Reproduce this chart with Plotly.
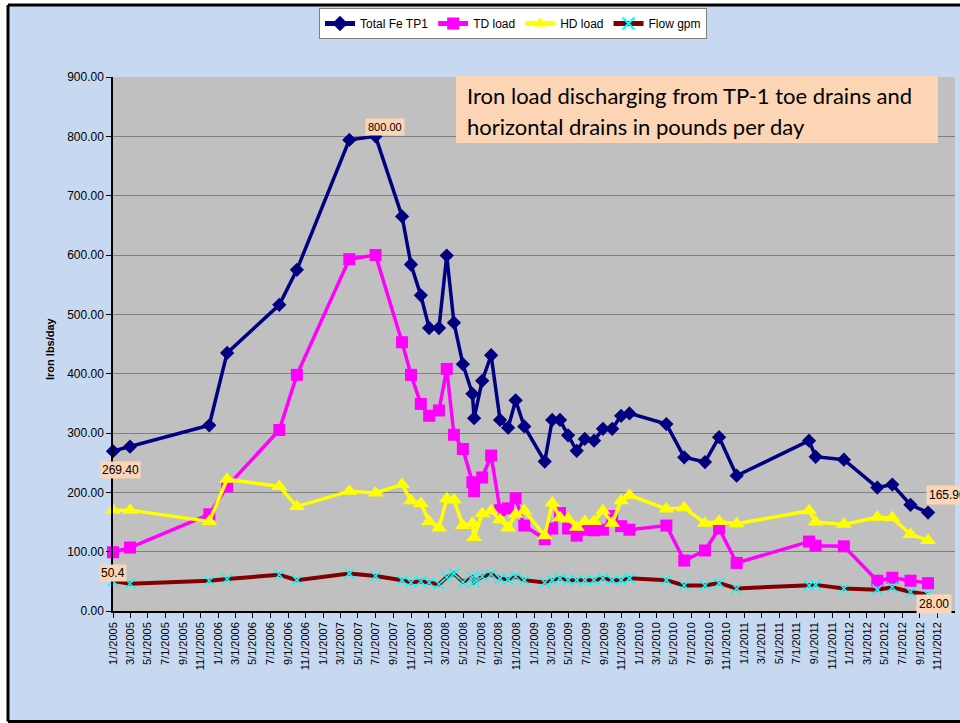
import plotly.graph_objects as go

dates = ["2005-01-01", "2005-03-01", "2005-12-01", "2006-02-01", "2006-08-01", "2006-10-01",
         "2007-04-01", "2007-07-01", "2007-10-01", "2007-11-01", "2007-12-05", "2008-01-03",
         "2008-02-06", "2008-03-04", "2008-03-29", "2008-04-29", "2008-06-01", "2008-06-07",
         "2008-07-05", "2008-08-05", "2008-09-05", "2008-10-03", "2008-10-29", "2008-11-28",
         "2009-02-07", "2009-03-05", "2009-04-01", "2009-04-29", "2009-05-29", "2009-06-26",
         "2009-07-28", "2009-08-28", "2009-09-29", "2009-10-30", "2009-11-28", "2010-04-05",
         "2010-06-06", "2010-08-17", "2010-10-05", "2010-12-05", "2011-08-13", "2011-09-05",
         "2011-12-12", "2012-04-06", "2012-05-28", "2012-07-30", "2012-09-29"]

total_fe = [269.4, 277, 313, 435, 516, 575, 794, 800, 665, 584, 532, 477, 477, 599, 486, 416,
            366, 325, 388, 431, 322, 309, 355, 311, 252, 322, 322, 296, 270, 290, 287, 307,
            307, 329, 333, 315, 259, 251, 293, 228, 287, 260, 255, 208, 213, 179, 165.9]

td_load = [99, 107, 163, 210, 305, 398, 593, 600, 453, 398, 349, 329, 338, 408, 297, 273,
           217, 202, 225, 262, 170, 173, 190, 144, 121, 139, 165, 139, 127, 137, 136, 137,
           160, 143, 137, 144, 85, 102, 139, 81, 117, 110, 109, 51, 56, 51, 47]

hd_load = [170, 170, 151, 222, 210, 176, 202, 199, 213, 186, 181, 151, 140, 189, 187, 144,
           148, 124, 164, 169, 154, 140, 163, 169, 127, 182, 157, 155, 141, 151, 151, 169,
           148, 186, 195, 172, 174, 148, 151, 147, 169, 150, 146, 158, 157, 129, 119]

flow_gpm = [50.4, 46, 51, 54, 61, 52, 63, 59, 52, 48, 50, 48, 45, 57, 63, 49,
            57, 49, 58, 62, 55, 53, 58, 52, 48, 52, 55, 52, 52, 52, 52, 55,
            52, 52, 55, 52, 43, 43, 47, 38, 43, 44, 38, 36, 40, 32, 28]

series_names = ["Total Fe TP1", "TD load", "HD load", "Flow gpm"]
y_ticks = [0, 100, 200, 300, 400, 500, 600, 700, 800, 900]
title_lines = ["Iron load discharging from TP-1 toe drains and",
               "horizontal drains in pounds per day"]
y_title = "Iron lbs/day"

# layout geometry (pixels)
W, H = 960, 723
ML, MR, MT, MB = 113, 5, 77, 112
PW = W - ML - MR
PH = H - MT - MB


def px(x):
    return (x - ML) / PW


def py(y):
    return (H - MB - y) / PH


fig = go.Figure()

fig.add_trace(go.Scatter(
    x=dates, y=total_fe, name=series_names[0], mode="lines+markers",
    line=dict(color="#000080", width=3.5),
    marker=dict(symbol="diamond", size=11, color="#000080"),
    cliponaxis=False))
fig.add_trace(go.Scatter(
    x=dates, y=td_load, name=series_names[1], mode="lines+markers",
    line=dict(color="#FF00FF", width=3.5),
    marker=dict(symbol="square", size=12, color="#FF00FF"),
    cliponaxis=False))
fig.add_trace(go.Scatter(
    x=dates, y=hd_load, name=series_names[2], mode="lines+markers",
    line=dict(color="#FFFF00", width=3.5),
    marker=dict(symbol="triangle-up", size=14, color="#FFFF00"),
    cliponaxis=False))
fig.add_trace(go.Scatter(
    x=dates, y=flow_gpm, name=series_names[3], mode="lines+markers",
    line=dict(color="#800000", width=4),
    marker=dict(symbol="x-thin-open", size=10, color="#00FFFF",
                line=dict(color="#00FFFF", width=1.5)),
    cliponaxis=False))

peach = "#FCD5B4"
label_font = dict(family="Arial, Liberation Sans, sans-serif", size=12, color="#000000")

annotations = [
    dict(x=dates[0], y=total_fe[0], xref="x", yref="y", text="269.40", showarrow=False,
         xshift=7, yshift=-19, bgcolor=peach, font=label_font, borderpad=1),
    dict(x=dates[0], y=flow_gpm[0], xref="x", yref="y", text="50.4", showarrow=False,
         xshift=0, yshift=8, bgcolor=peach, font=label_font, borderpad=1),
    dict(x=dates[7], y=total_fe[7], xref="x", yref="y", text="800.00", showarrow=False,
         xshift=9, yshift=9, bgcolor=peach,
         font=dict(family="Arial, Liberation Sans, sans-serif", size=11, color="#000000"),
         borderpad=2),
    dict(x=dates[-1], y=total_fe[-1], xref="x", yref="y", text="165.90", showarrow=False,
         xanchor="left", xshift=-2, yshift=18, bgcolor=peach, font=label_font, borderpad=2),
    dict(x=dates[-1], y=flow_gpm[-1], xref="x", yref="y", text="28.00", showarrow=False,
         xshift=6, yshift=-10, bgcolor=peach, font=label_font, borderpad=2),
    dict(x=px(42), y=py(349), xref="paper", yref="paper", text="<b>" + y_title + "</b>",
         textangle=-90, showarrow=False,
         font=dict(family="Arial, Liberation Sans, sans-serif", size=11, color="#000000")),
]
for i, line in enumerate(title_lines):
    annotations.append(dict(
        x=px(465), y=py(96 + 30 * i), xref="paper", yref="paper", text=line,
        showarrow=False, xanchor="left", yanchor="middle",
        font=dict(family="Lato, Open Sans, sans-serif", size=22, color="#000000")))

shapes = [
    # title box
    dict(type="rect", xref="paper", yref="paper", x0=px(456), x1=px(938),
         y0=py(143), y1=py(76), fillcolor=peach, line=dict(width=0), layer="above"),
    # white outside the chart border
    dict(type="rect", xref="paper", yref="paper", x0=px(-5), x1=px(8),
         y0=py(730), y1=py(-5), fillcolor="white", line=dict(width=0), layer="above"),
    dict(type="rect", xref="paper", yref="paper", x0=px(-5), x1=px(970),
         y0=py(5), y1=py(-5), fillcolor="white", line=dict(width=0), layer="above"),
    dict(type="rect", xref="paper", yref="paper", x0=px(-5), x1=px(970),
         y0=py(730), y1=py(721.5), fillcolor="white", line=dict(width=0), layer="above"),
    # chart border
    dict(type="line", xref="paper", yref="paper", x0=px(8), x1=px(8),
         y0=py(721.5), y1=py(5), line=dict(color="black", width=3), layer="above"),
    dict(type="line", xref="paper", yref="paper", x0=px(8), x1=px(970),
         y0=py(5), y1=py(5), line=dict(color="black", width=3), layer="above"),
    dict(type="line", xref="paper", yref="paper", x0=px(8), x1=px(970),
         y0=py(721.5), y1=py(721.5), line=dict(color="black", width=3), layer="above"),
]

fig.update_layout(
    width=W, height=H,
    margin=dict(l=ML, r=MR, t=MT, b=MB, autoexpand=False),
    paper_bgcolor="#C6D9F0",
    plot_bgcolor="#C0C0C0",
    font=dict(family="Arial, Liberation Sans, sans-serif", size=12, color="#000000"),
    showlegend=True,
    legend=dict(orientation="h", x=px(513), xanchor="center", y=py(8), yanchor="top",
                bgcolor="white", bordercolor="#808080", borderwidth=1,
                font=dict(family="Arial, Liberation Sans, sans-serif", size=12),
                itemsizing="constant", itemwidth=30, tracegroupgap=0),
    annotations=annotations,
    shapes=shapes,
    xaxis=dict(type="date", range=["2005-01-01", "2012-12-31 12:00"],
               tick0="2005-01-01", dtick="M2", tickformat="%-m/%-d/%Y",
               tickangle=-90, ticks="outside", ticklen=5, tickcolor="black",
               showgrid=False, showline=True, linecolor="black", linewidth=1.5,
               zeroline=False,
               tickfont=dict(family="Arial, Liberation Sans, sans-serif", size=11)),
    yaxis=dict(range=[0, 900], tickvals=y_ticks, tickformat=".2f",
               ticks="outside", ticklen=5, tickcolor="black",
               showgrid=True, gridcolor="#808080", gridwidth=1,
               showline=True, linecolor="black", linewidth=1.5, zeroline=False,
               tickfont=dict(family="Arial, Liberation Sans, sans-serif", size=12)),
)

fig.write_html(
    "out.html",
    config={"displayModeBar": False},
    post_script="document.body.style.margin='0';document.body.style.overflow='hidden';"
                "document.documentElement.style.overflow='hidden';",
)
